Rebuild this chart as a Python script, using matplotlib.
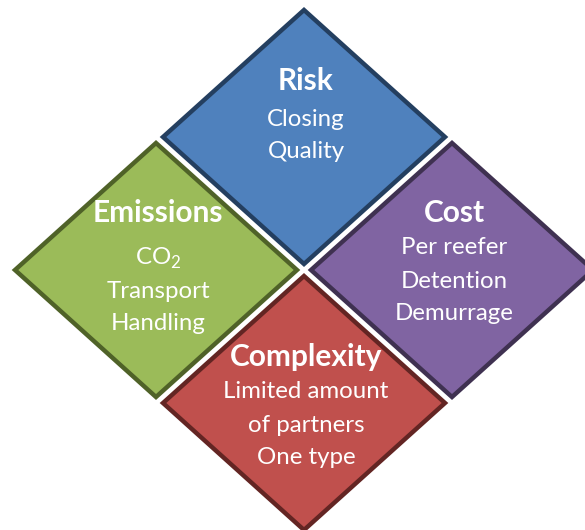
import matplotlib.pyplot as plt
from matplotlib.patches import Polygon

plt.rcParams['font.family'] = ['Lato', 'DejaVu Sans']
plt.rcParams['mathtext.fontset'] = 'custom'
plt.rcParams['mathtext.rm'] = 'Lato'

# the four factors, laid out on a diamond grid (col, row)
names = ['Risk', 'Emissions', 'Cost', 'Complexity']
items = [['Closing', 'Quality'],
         ['CO$_2$', 'Transport', 'Handling'],
         ['Per reefer', 'Detention', 'Demurrage'],
         ['Limited amount', 'of partners', 'One type']]
fills = ['#4F81BD', '#9BBB59', '#8064A2', '#C0504D']
edges = ['#243F60', '#4F6228', '#3F3151', '#632523']
grid = [(0, -1), (-1, 0), (1, 0), (0, 1)]

# layout in pixels
cx, cy = 304, 270
dx, dy = 148, 133
hw, hh = 141, 127
head_off = [-56, -57, -57, -46]
head_gap = [38, 45, 35, 35]
line_gap = 33

fig = plt.figure(figsize=(5.85, 5.30), dpi=100)
ax = fig.add_axes([0, 0, 1, 1])
ax.set_xlim(0, 585)
ax.set_ylim(530, 0)
ax.axis('off')

for k in range(len(names)):
    x = cx + grid[k][0] * dx
    y = cy + grid[k][1] * dy
    pts = [(x, y - hh), (x + hw, y), (x, y + hh), (x - hw, y)]
    ax.add_patch(Polygon(pts, closed=True, facecolor=fills[k],
                         edgecolor=edges[k], linewidth=3.2, joinstyle='miter'))
    ty = y + head_off[k]
    ax.text(x + 2, ty, names[k], color='white', fontsize=21.5, fontweight='bold',
            ha='center', va='center')
    ly = ty + head_gap[k]
    for s in items[k]:
        ax.text(x + 2, ly, s, color='white', fontsize=17.3, ha='center', va='center')
        ly += line_gap

fig.savefig('out.png', dpi=100)
